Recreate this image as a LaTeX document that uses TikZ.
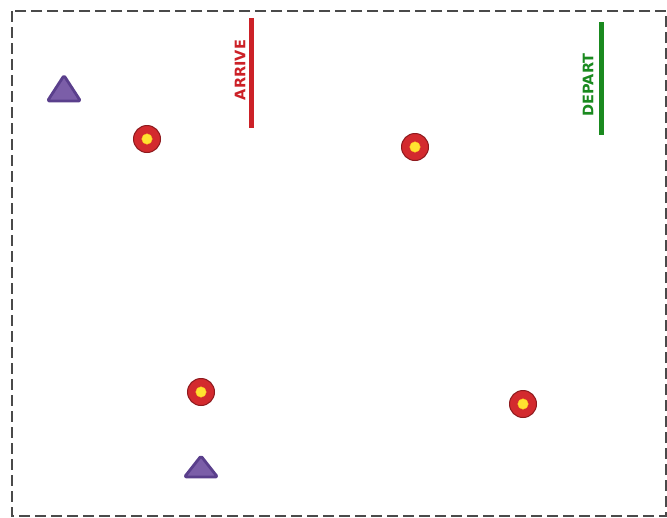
\documentclass[tikz,border=0pt]{standalone}
\usepackage{fontspec}
\newfontfamily\gatefont{DejaVu Sans}
\usepackage{xcolor}
\usepackage{tikz}
\usetikzlibrary{positioning,calc}
\definecolor{frame}{HTML}{4A4A4A}
\definecolor{arrred}{HTML}{CC2127}
\definecolor{depgreen}{HTML}{1A8A1F}
\definecolor{ring}{HTML}{D32A2E}
\definecolor{ringedge}{HTML}{8E1A1E}
\definecolor{bull}{HTML}{FFE330}
\definecolor{cone}{HTML}{7B5EA8}
\definecolor{coneedge}{HTML}{5A3F8C}

\begin{document}
\begin{tikzpicture}[x=1pt,y=-1pt,
    target/.style={circle,draw=ringedge,line width=1pt,fill=ring,minimum size=27pt,inner sep=0pt},
    bullseye/.style={circle,fill=bull,draw=bull!70!orange,line width=0.4pt,minimum size=10.5pt,inner sep=0pt},
    gate/.style={line width=5pt},
    gatelabel/.style={font=\gatefont\bfseries\fontsize{14.5}{14.5}\selectfont,rotate=90,inner sep=0pt},
    cone/.style={draw=coneedge,fill=cone,line width=2.8pt,rounded corners=1.5pt,line join=round}]
  \useasboundingbox (0,0) rectangle (667,517);
  % course boundary
  \draw[frame,line width=1.1pt,dash pattern=on 11pt off 5pt] (12,11) rectangle (666,516);
  % arrive / depart gates
  \draw[gate,arrred] (251,18) -- (251,128);
  \node[gatelabel,text=arrred] (arrive) at (240,70) {ARRIVE};
  \draw[gate,depgreen] (601,22) -- (601,135);
  \node[gatelabel,text=depgreen] (depart) at (588,85) {DEPART};
  % targets
  \foreach \n/\x/\y in {t1/147/139, t2/415/147, t3/201/392, t4/523/404} {
    \node[target] (\n) at (\x,\y) {};
    \node[bullseye] at (\n) {};
  }
  % cones
  \draw[cone] (64,75.5) -- (80.5,101) -- (47.5,101) -- cycle;
  \draw[cone] (201,456) -- (217.5,477) -- (184.5,477) -- cycle;
\end{tikzpicture}
\end{document}
